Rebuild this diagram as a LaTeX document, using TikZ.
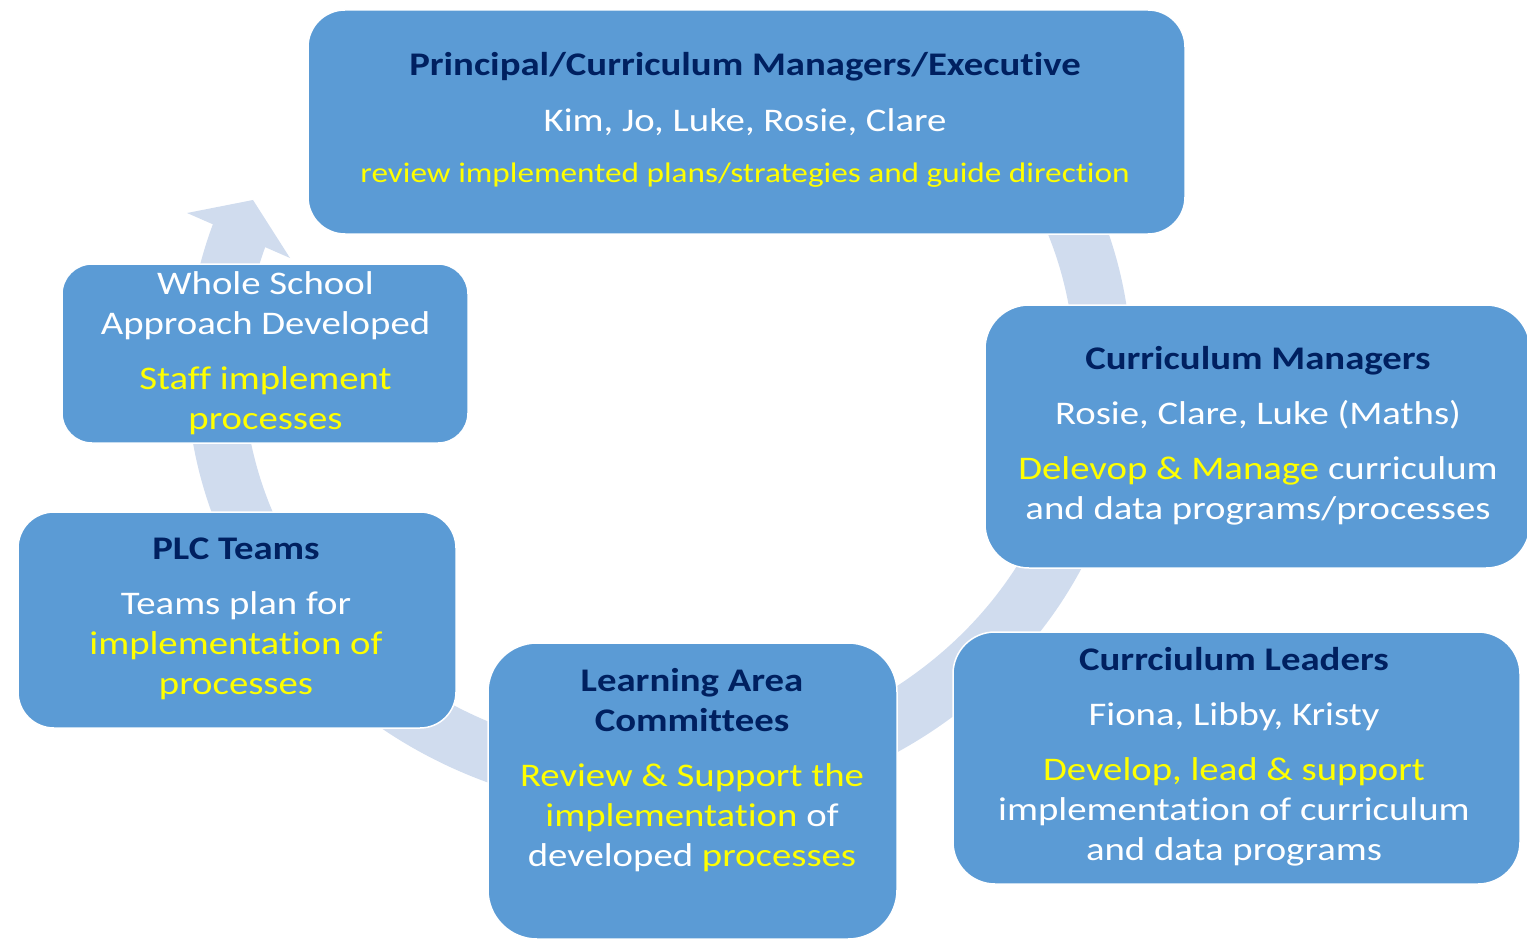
\documentclass[tikz,border=0pt]{standalone}
\usepackage{fontspec}
\setmainfont{Carlito}[FakeStretch=1.175, Ligatures={NoCommon,NoContextual,NoRequired}]
\definecolor{boxblue}{RGB}{91,155,213}
\definecolor{bandblue}{RGB}{208,220,238}
\definecolor{navy}{RGB}{0,32,96}
\definecolor{hiyellow}{RGB}{255,255,0}
\tikzset{
  box/.style={draw=white, line width=1.5pt, fill=boxblue, rectangle, inner sep=0pt},
  txt/.style={align=center, text=white, inner sep=0pt, font=\fontsize{33}{40}\selectfont},
  band/.style={draw=bandblue, line width=57pt},
  bandhead/.style={fill=bandblue}
}
\newcommand{\ttl}[1]{{\bfseries\color{navy}#1}}
\newcommand{\hy}[1]{{\color{hiyellow}#1}}
\begin{document}
\begin{tikzpicture}[x=1pt,y=-1pt]
\useasboundingbox (0,0) rectangle (1527,939);
% circular arrow behind the boxes
\coordinate (ctr) at (659,370);
\draw[band] (ctr) ++(-40:444 and 414) arc[start angle=-40, end angle=199.6, x radius=444, y radius=414];
\coordinate (hl) at (187,213);
\coordinate (ht) at (253,200);
\coordinate (hr) at (290,258);
\fill[bandhead] (hl) -- (ht) -- (hr) -- cycle;
% boxes
\node[box, rounded corners=37pt, minimum width=877pt, minimum height=224pt] (top) at (746.5,122) {};
\node[box, rounded corners=30pt, minimum width=406pt, minimum height=179pt] (ws) at (265,353.5) {};
\node[box, rounded corners=44pt, minimum width=545pt, minimum height=263pt] (cm) at (1257.5,436.5) {};
\node[box, rounded corners=36pt, minimum width=438pt, minimum height=216pt] (plc) at (237,620) {};
\node[box, rounded corners=49pt, minimum width=409pt, minimum height=296pt] (la) at (692.5,791) {};
\node[box, rounded corners=42pt, minimum width=567pt, minimum height=252pt] (cl) at (1236.5,758) {};
% texts
\node[txt] (toptxt) at (745,120) {\ttl{Principal/Curriculum Managers/Executive}\\[16pt]
Kim, Jo, Luke, Rosie, Clare\\[11pt]
{\fontsize{28.3}{33}\selectfont\hy{review implemented plans/strategies and guide direction}}};
\node[txt] (wstxt) at (265.5,353) {Whole School\\Approach Developed\\[15pt]
\hy{Staff implement}\\\hy{processes}};
\node[txt] (cmtxt) at (1258,435.5) {\ttl{Curriculum Managers}\\[15pt]
Rosie, Clare, Luke (Maths)\\[15pt]
\hy{Delevop \& Manage} curriculum\\and data programs/processes};
\node[txt] (plctxt) at (236,618.5) {\ttl{PLC Teams}\\[15pt]
Teams plan for\\\hy{implementation of}\\\hy{processes}};
\node[txt] (latxt) at (692,770.5) {\ttl{Learning Area}\\\ttl{Committees}\\[15pt]
\hy{Review \& Support the}\\\hy{implementation} of\\developed \hy{processes}};
\node[txt] (cltxt) at (1234,756.5) {\ttl{Currciulum Leaders}\\[15pt]
Fiona, Libby, Kristy\\[15pt]
\hy{Develop, lead \& support}\\implementation of curriculum\\and data programs};
\end{tikzpicture}
\end{document}
